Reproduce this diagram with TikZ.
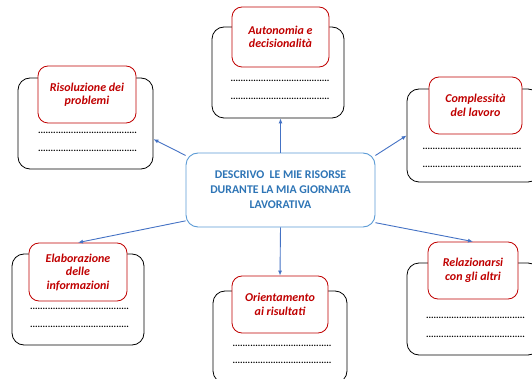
\documentclass[tikz,border=0pt]{standalone}
\usepackage{fontspec}
\setmainfont{Carlito}
\usepackage{tikz}
\usetikzlibrary{arrows.meta}
\definecolor{titlered}{RGB}{192,0,0}
\definecolor{hubblue}{RGB}{46,117,182}
\definecolor{hubline}{RGB}{91,155,213}
\definecolor{linkblue}{RGB}{68,114,196}
\newcommand{\puntini}{.......................................}

\begin{document}
\begin{tikzpicture}[x=1pt,y=-1pt,
	card/.style={draw=black,fill=white,rounded corners=12pt,line width=0.8pt,inner sep=0pt},
	title/.style={draw=titlered,fill=white,rounded corners=10pt,line width=0.8pt,inner sep=0pt,
		text=titlered,align=center,font=\bfseries\itshape\fontsize{12}{13.5}\selectfont},
	hub/.style={draw=hubline,fill=white,rounded corners=12pt,line width=0.9pt,inner sep=0pt,
		text=hubblue,align=center,font=\bfseries\fontsize{11.8}{15}\selectfont,
		minimum width=189pt,minimum height=74pt},
	dots/.style={inner sep=0pt,font=\bfseries\fontsize{9.5}{9.5}\selectfont},
	link/.style={draw=linkblue,line width=0.9pt,-{Latex[length=5pt,width=4pt]}}]
	\clip (0,0) rectangle (532,379);

	% centre
	\node[hub] (centre) at (280.5,190) {DESCRIVO\ \ LE MIE RISORSE\\DURANTE LA MIA GIORNATA\\LAVORATIVA};

	% top
	\node[card,minimum width=132pt,minimum height=91pt] (autonomia) at (278,72.5) {};
	\node[title,minimum width=97pt,minimum height=60pt] (autonomiaT) at (280.5,37) {Autonomia e\\decisionalità};
	\node[dots] (autonomiaA) at (280,81) {\puntini};
	\node[dots] (autonomiaB) at (280,99) {\puntini};

	% top left
	\node[card,minimum width=135pt,minimum height=91pt] (risoluzione) at (85.5,123.5) {};
	\node[title,minimum width=98pt,minimum height=57pt] (risoluzioneT) at (87,94.5) {Risoluzione dei\\problemi};
	\node[dots] (risoluzioneA) at (87.5,133) {\puntini};
	\node[dots] (risoluzioneB) at (87.5,151) {\puntini};

	% top right
	\node[card,minimum width=133pt,minimum height=93pt] (complessita) at (473.5,135.5) {};
	\node[title,minimum width=93pt,minimum height=57pt] (complessitaT) at (475.5,105.5) {Complessità\\del lavoro};
	\node[dots] (complessitaA) at (472,149) {\puntini};
	\node[dots] (complessitaB) at (472,167) {\puntini};

	% bottom left
	\node[card,minimum width=132pt,minimum height=91pt] (elaborazione) at (78,299.5) {};
	\node[title,minimum width=98pt,minimum height=58pt] (elaborazioneT) at (78,272) {Elaborazione\\delle\\informazioni};
	\node[dots] (elaborazioneA) at (79.5,309) {\puntini};
	\node[dots] (elaborazioneB) at (79.5,327) {\puntini};

	% bottom
	\node[card,minimum width=134pt,minimum height=92pt] (orientamento) at (280,337) {};
	\node[title,minimum width=96pt,minimum height=57pt] (orientamentoT) at (280,304.5) {Orientamento\\ai risultati};
	\node[dots] (orientamentoA) at (282,346) {\puntini};
	\node[dots] (orientamentoB) at (282,363) {\puntini};

	% bottom right
	\node[card,minimum width=133pt,minimum height=92pt] (relazioni) at (473.5,309) {};
	\node[title,minimum width=90pt,minimum height=57pt] (relazioniT) at (473,270.5) {Relazionarsi\\con gli altri};
	\node[dots] (relazioniA) at (475.5,318) {\puntini};
	\node[dots] (relazioniB) at (475.5,337) {\puntini};

	% arrows
	\draw[link] (centre.north) -- (centre.north |- autonomia.south);
	\draw[link] (centre.160) -- (risoluzione.-13);
	\draw[link] (centre.20) -- (complessita.west);
	\draw[link] (centre.198) -- (elaborazioneT.north);
	\draw[link] (centre.south) -- (orientamentoT.north);
	\draw[link] (centre.341) -- (relazioniT.north);
\end{tikzpicture}
\end{document}
